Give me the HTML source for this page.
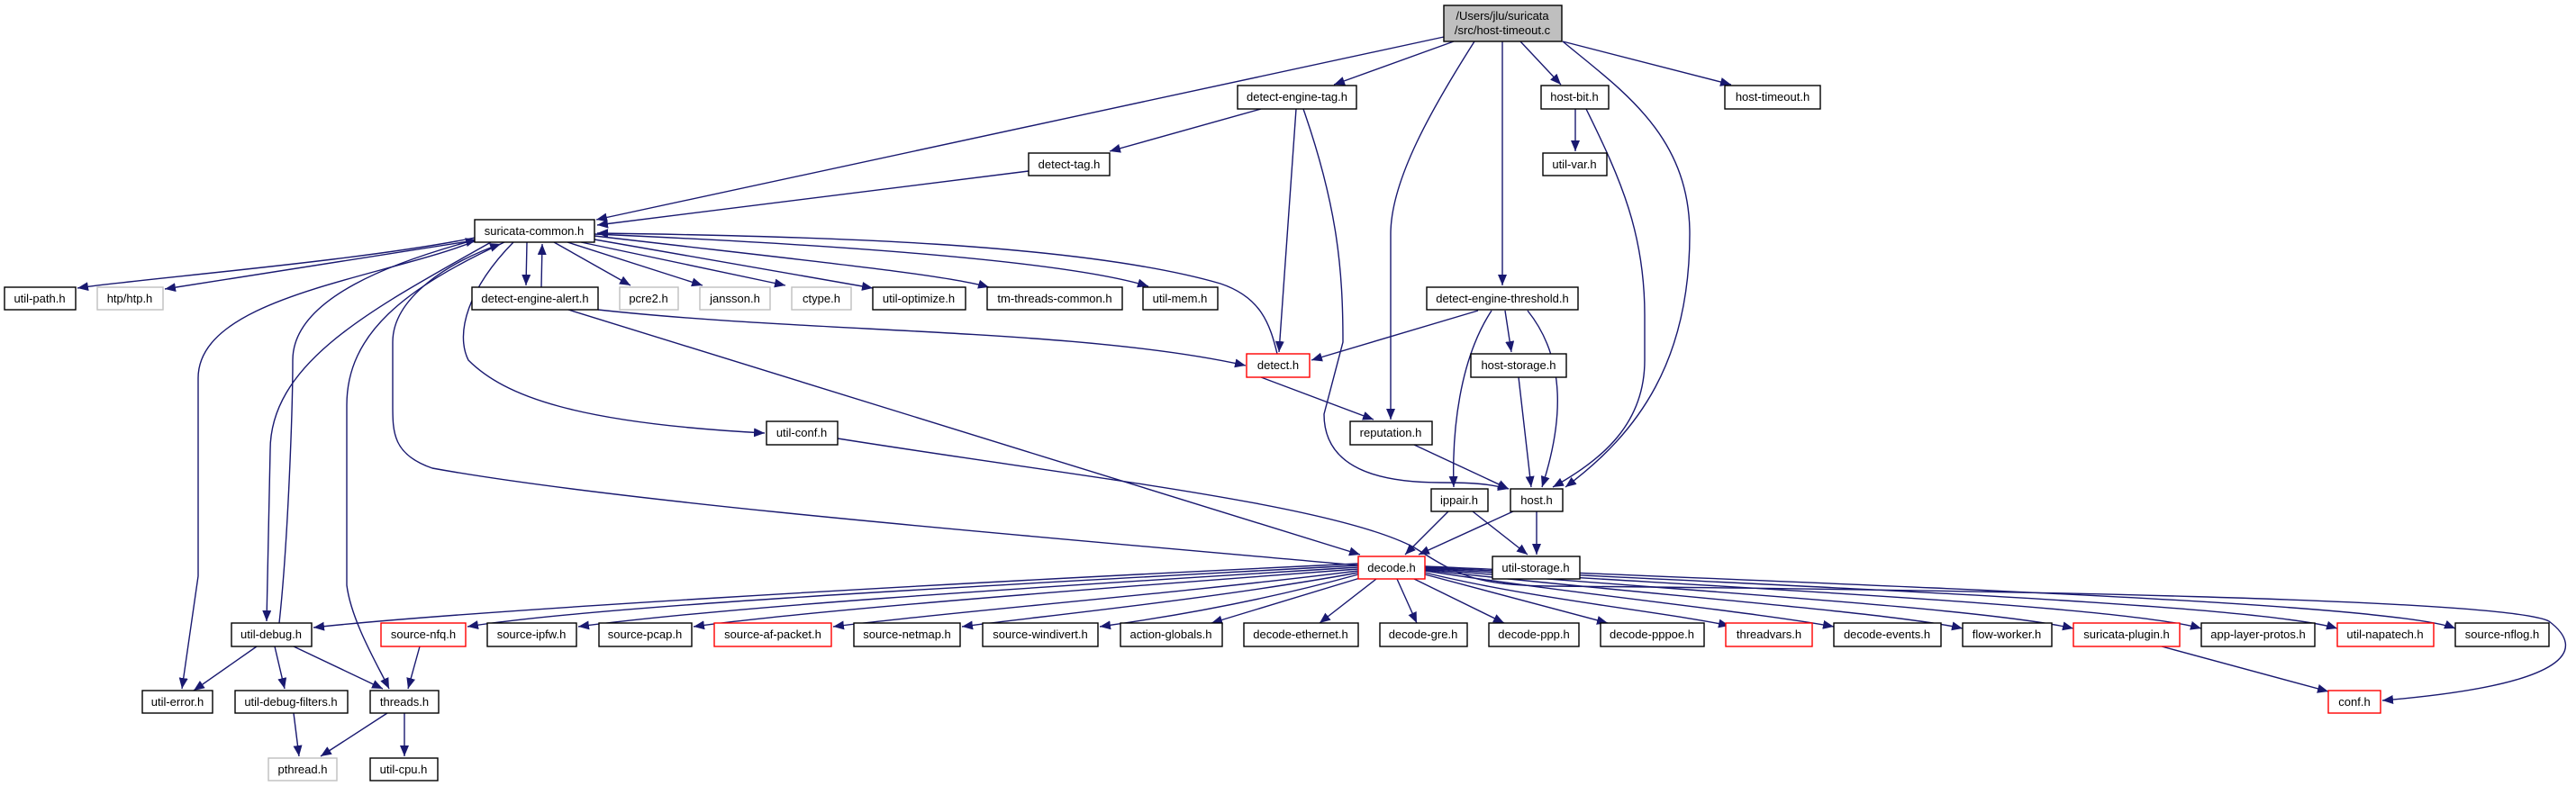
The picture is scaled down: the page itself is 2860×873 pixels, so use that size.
<!DOCTYPE html>
<html><head><meta charset="utf-8"><style>
html,body{margin:0;padding:0;background:#fff}
svg{display:block}
text{font-family:"Liberation Sans",sans-serif;font-size:13px;fill:#000}
.e{fill:none;stroke:#191970;stroke-width:1.4}
.n{fill:#fff;stroke:#000;stroke-width:1.4}
.g{fill:#fff;stroke:#bfbfbf;stroke-width:1.4}
.r{fill:#fff;stroke:#ff0000;stroke-width:1.4}
</style></head><body>
<svg width="2860" height="873" viewBox="0 0 2860 873" xmlns="http://www.w3.org/2000/svg">
<defs><marker id="a" markerUnits="userSpaceOnUse" markerWidth="14" markerHeight="12" refX="12" refY="5" orient="auto"><path d="M0,0 L12,5 L0,10 z" fill="#191970"/></marker></defs>
<g class="e" marker-end="url(#a)">
<path d="M1603,41 L662,244"/>
<path d="M1614,46 L1481,94"/>
<path d="M1637,46 C1590,120 1544,200 1544,260 L1544,466"/>
<path d="M1668,46 L1668,317"/>
<path d="M1688,46 L1733,94"/>
<path d="M1735,46 C1800,100 1876,150 1876,260 C1876,400 1820,480 1738,541"/>
<path d="M1735,46 L1922,94"/>
<path d="M1400,121 L1232,168"/>
<path d="M1439,121 L1420,391"/>
<path d="M1447,121 C1485,230 1491,300 1491,380 L1470,460 C1470,520 1530,536 1600,536 C1640,536 1655,538 1675,543"/>
<path d="M1142,190 L663,250"/>
<path d="M1749,121 L1749,168"/>
<path d="M1761,121 C1800,200 1826,260 1826,350 L1826,400 C1826,470 1780,510 1724,541"/>
<path d="M527,264 C400,290 150,310 86,320"/>
<path d="M527,267 L183,321"/>
<path d="M585,269 L584,317"/>
<path d="M601,319 L602,271"/>
<path d="M615,269 L700,317"/>
<path d="M630,269 L780,317"/>
<path d="M645,269 L872,317"/>
<path d="M660,266 L969,320"/>
<path d="M660,262 C900,290 1050,305 1098,319"/>
<path d="M660,260 C1000,275 1200,295 1275,318"/>
<path d="M1418,393 C1410,360 1400,330 1355,315 C1200,270 900,262 663,259"/>
<path d="M664,344 C900,370 1200,365 1383,406"/>
<path d="M631,344 L1510,616"/>
<path d="M545,269 C420,340 300,400 300,500 L296,690"/>
<path d="M310,692 C320,600 325,450 325,400 C325,330 440,290 529,266"/>
<path d="M527,268 C420,310 220,330 220,420 L220,640 L202,765"/>
<path d="M560,269 C450,320 385,370 385,450 L385,650 C390,690 420,740 432,765"/>
<path d="M1508,628 C1200,600 700,560 480,520 C436,505 436,480 436,450 L436,380 C436,330 500,290 556,271"/>
<path d="M570,269 C520,320 505,370 520,400 C560,440 640,470 849,481"/>
<path d="M930,487 C1200,530 1480,560 1570,608 C1620,640 1640,650 1720,651 C2200,655 2780,665 2830,690 C2870,720 2860,760 2645,778"/>
<path d="M2400,718 L2585,768"/>
<path d="M1508,626 C1000,650 500,680 348,697"/>
<path d="M1508,628 C1000,655 650,675 519,696"/>
<path d="M1508,630 C1100,655 800,675 642,696"/>
<path d="M1508,632 C1200,655 900,678 770,696"/>
<path d="M1508,634 C1300,660 1050,680 925,696"/>
<path d="M1508,636 C1350,665 1150,685 1068,696"/>
<path d="M1508,638 C1400,668 1300,685 1221,696"/>
<path d="M1510,642 L1345,692"/>
<path d="M1528,643 L1465,692"/>
<path d="M1551,643 L1573,692"/>
<path d="M1570,643 L1670,692"/>
<path d="M1582,638 L1785,692"/>
<path d="M1582,636 C1700,665 1850,680 1920,695"/>
<path d="M1582,634 C1750,660 1950,680 2036,696"/>
<path d="M1582,633 C1800,658 2100,680 2179,698"/>
<path d="M1582,632 C1850,655 2200,675 2302,698"/>
<path d="M1582,631 C1900,652 2350,672 2444,698"/>
<path d="M1582,630 C1950,650 2500,670 2595,698"/>
<path d="M1582,629 C2000,648 2650,668 2726,698"/>
<path d="M285,718 L215,767"/>
<path d="M305,718 L316,765"/>
<path d="M326,718 L425,765"/>
<path d="M466,718 L453,765"/>
<path d="M326,792 L332,840"/>
<path d="M430,792 L356,840"/>
<path d="M449,792 L449,840"/>
<path d="M1641,345 L1456,400"/>
<path d="M1656,345 C1620,400 1612,480 1614,541"/>
<path d="M1671,345 L1678,391"/>
<path d="M1696,345 C1740,400 1735,470 1712,541"/>
<path d="M1686,419 L1700,541"/>
<path d="M1400,419 L1525,466"/>
<path d="M1570,494 L1675,543"/>
<path d="M1608,568 L1560,616"/>
<path d="M1635,568 L1696,616"/>
<path d="M1680,568 L1575,616"/>
<path d="M1706,568 L1706,616"/>
</g>
<g text-anchor="middle">
<rect x="1603" y="6" width="131" height="40" fill="#bfbfbf" stroke="#000" stroke-width="1.4"/>
<text x="1668" y="22">/Users/jlu/suricata</text><text x="1668" y="38">/src/host-timeout.c</text>
<rect class="n" x="527" y="244" width="133" height="25"/><text x="593" y="261">suricata-common.h</text>
<rect class="n" x="1374" y="95" width="132" height="26"/><text x="1440" y="112">detect-engine-tag.h</text>
<rect class="n" x="1711" y="95" width="75" height="26"/><text x="1748" y="112">host-bit.h</text>
<rect class="n" x="1915" y="95" width="106" height="26"/><text x="1968" y="112">host-timeout.h</text>
<rect class="n" x="1142" y="170" width="90" height="25"/><text x="1187" y="187">detect-tag.h</text>
<rect class="n" x="1713" y="170" width="71" height="25"/><text x="1748" y="187">util-var.h</text>
<rect class="n" x="5" y="319" width="79" height="25"/><text x="44" y="336">util-path.h</text>
<rect class="g" x="108" y="319" width="73" height="25"/><text x="144" y="336">htp/htp.h</text>
<rect class="n" x="524" y="319" width="140" height="25"/><text x="594" y="336">detect-engine-alert.h</text>
<rect class="g" x="688" y="319" width="65" height="25"/><text x="720" y="336">pcre2.h</text>
<rect class="g" x="777" y="319" width="78" height="25"/><text x="816" y="336">jansson.h</text>
<rect class="g" x="879" y="319" width="66" height="25"/><text x="912" y="336">ctype.h</text>
<rect class="n" x="969" y="319" width="103" height="25"/><text x="1020" y="336">util-optimize.h</text>
<rect class="n" x="1096" y="319" width="150" height="25"/><text x="1171" y="336">tm-threads-common.h</text>
<rect class="n" x="1269" y="319" width="83" height="25"/><text x="1310" y="336">util-mem.h</text>
<rect class="n" x="1584" y="319" width="168" height="25"/><text x="1668" y="336">detect-engine-threshold.h</text>
<rect class="r" x="1384" y="393" width="70" height="26"/><text x="1419" y="410">detect.h</text>
<rect class="n" x="1633" y="393" width="106" height="26"/><text x="1686" y="410">host-storage.h</text>
<rect class="n" x="851" y="468" width="79" height="26"/><text x="890" y="485">util-conf.h</text>
<rect class="n" x="1499" y="468" width="91" height="26"/><text x="1544" y="485">reputation.h</text>
<rect class="n" x="1589" y="543" width="63" height="25"/><text x="1620" y="560">ippair.h</text>
<rect class="n" x="1677" y="543" width="58" height="25"/><text x="1706" y="560">host.h</text>
<rect class="r" x="1508" y="618" width="74" height="25"/><text x="1545" y="635">decode.h</text>
<rect class="n" x="1657" y="618" width="97" height="25"/><text x="1705" y="635">util-storage.h</text>
<rect class="n" x="257" y="692" width="89" height="26"/><text x="301" y="709">util-debug.h</text>
<rect class="r" x="423" y="692" width="94" height="26"/><text x="470" y="709">source-nfq.h</text>
<rect class="n" x="541" y="692" width="99" height="26"/><text x="590" y="709">source-ipfw.h</text>
<rect class="n" x="665" y="692" width="103" height="26"/><text x="716" y="709">source-pcap.h</text>
<rect class="r" x="793" y="692" width="130" height="26"/><text x="858" y="709">source-af-packet.h</text>
<rect class="n" x="948" y="692" width="118" height="26"/><text x="1007" y="709">source-netmap.h</text>
<rect class="n" x="1091" y="692" width="128" height="26"/><text x="1155" y="709">source-windivert.h</text>
<rect class="n" x="1244" y="692" width="113" height="26"/><text x="1300" y="709">action-globals.h</text>
<rect class="n" x="1381" y="692" width="127" height="26"/><text x="1444" y="709">decode-ethernet.h</text>
<rect class="n" x="1532" y="692" width="97" height="26"/><text x="1580" y="709">decode-gre.h</text>
<rect class="n" x="1653" y="692" width="100" height="26"/><text x="1703" y="709">decode-ppp.h</text>
<rect class="n" x="1777" y="692" width="115" height="26"/><text x="1834" y="709">decode-pppoe.h</text>
<rect class="r" x="1916" y="692" width="96" height="26"/><text x="1964" y="709">threadvars.h</text>
<rect class="n" x="2036" y="692" width="119" height="26"/><text x="2095" y="709">decode-events.h</text>
<rect class="n" x="2179" y="692" width="99" height="26"/><text x="2228" y="709">flow-worker.h</text>
<rect class="r" x="2302" y="692" width="118" height="26"/><text x="2361" y="709">suricata-plugin.h</text>
<rect class="n" x="2444" y="692" width="126" height="26"/><text x="2507" y="709">app-layer-protos.h</text>
<rect class="r" x="2595" y="692" width="107" height="26"/><text x="2648" y="709">util-napatech.h</text>
<rect class="n" x="2726" y="692" width="104" height="26"/><text x="2778" y="709">source-nflog.h</text>
<rect class="n" x="158" y="767" width="78" height="25"/><text x="197" y="784">util-error.h</text>
<rect class="n" x="261" y="767" width="125" height="25"/><text x="323" y="784">util-debug-filters.h</text>
<rect class="n" x="411" y="767" width="76" height="25"/><text x="449" y="784">threads.h</text>
<rect class="r" x="2585" y="767" width="58" height="25"/><text x="2614" y="784">conf.h</text>
<rect class="g" x="298" y="842" width="76" height="25"/><text x="336" y="859">pthread.h</text>
<rect class="n" x="411" y="842" width="75" height="25"/><text x="448" y="859">util-cpu.h</text>
</g>
</svg>
</body></html>
